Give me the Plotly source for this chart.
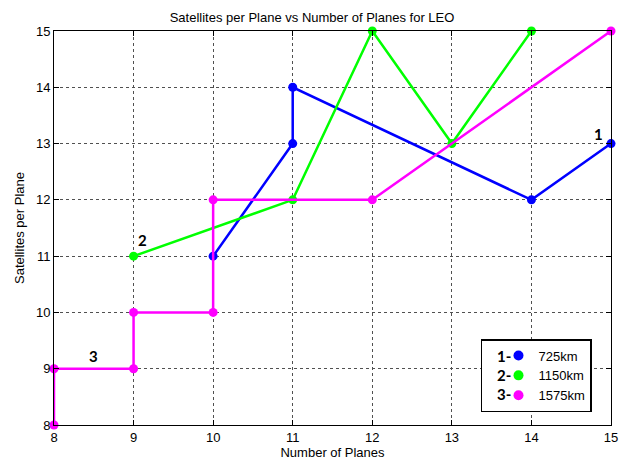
import plotly.graph_objects as go

# Number of planes (x) and satellites per plane (y) for each LEO altitude
planes_725 = [10, 11, 11, 14, 15]
sats_725 = [11, 13, 14, 12, 13]

planes_1150 = [9, 11, 12, 13, 14]
sats_1150 = [11, 12, 15, 13, 15]

planes_1575 = [8, 8, 9, 9, 10, 10, 12, 15]
sats_1575 = [8, 9, 9, 10, 10, 12, 12, 15]

series_names = ["725km", "1150km", "1575km"]
series_tags = ["1-", "2-", "3-"]
series_colors = ["#0000ff", "#00ff00", "#ff00ff"]

tick_vals = list(range(8, 16))

fig = go.Figure()

series = [
    (planes_725, sats_725),
    (planes_1150, sats_1150),
    (planes_1575, sats_1575),
]
for (xs, ys), name, color in zip(series, series_names, series_colors):
    fig.add_trace(go.Scatter(
        x=xs, y=ys, mode="lines+markers", name=name,
        line=dict(color=color, width=2.5),
        marker=dict(color=color, size=9),
        cliponaxis=False, showlegend=False,
    ))

# marker-only legend entries
for name, color in zip(series_names, series_colors):
    fig.add_trace(go.Scatter(
        x=[None], y=[None], mode="markers", name=name,
        marker=dict(color=color, size=10),
    ))

label_font = dict(family="Lato", size=15, color="black")
# series number labels next to the curves
fig.add_annotation(x=planes_725[-1], y=sats_725[-1], text="<b>1</b>",
                   showarrow=False, xshift=-13, yshift=10, font=label_font)
fig.add_annotation(x=planes_1150[0], y=sats_1150[0], text="<b>2</b>",
                   showarrow=False, xshift=9, yshift=16, font=label_font)
fig.add_annotation(x=(planes_1575[1] + planes_1575[2]) / 2, y=sats_1575[1],
                   text="<b>3</b>", showarrow=False, yshift=13, font=label_font)

# numbered prefixes inside the legend box
tag_y = [0.1751, 0.1269, 0.0787]
for tag, ty in zip(series_tags, tag_y):
    fig.add_annotation(xref="paper", yref="paper", x=0.8079, y=ty,
                       text="<b>" + tag + "</b>", showarrow=False,
                       xanchor="center", yanchor="middle", font=label_font)

axis_common = dict(
    range=[8, 15], tickvals=tick_vals, showgrid=True, automargin=False,
    gridcolor="rgb(80,80,80)", griddash="dot", gridwidth=1,
    showline=True, linecolor="black", linewidth=1, mirror="ticks",
    ticks="inside", ticklen=5, tickcolor="black", zeroline=False,
    tickfont=dict(family="Liberation Sans", size=13, color="black"),
)

title_font = dict(family="Liberation Sans", size=13, color="black")

fig.update_layout(
    width=624, height=463,
    margin=dict(l=54, r=13, t=31, b=38, autoexpand=False),
    paper_bgcolor="white", plot_bgcolor="white",
    font=dict(family="Liberation Sans", size=13, color="black"),
    title=dict(text="Satellites per Plane vs Number of Planes for LEO",
               x=0.5, xanchor="center", y=0.963, yanchor="middle",
               font=title_font),
    xaxis=dict(axis_common, title=dict(text="Number of Planes", standoff=4,
                                       font=title_font)),
    yaxis=dict(axis_common, title=dict(text="Satellites per Plane", standoff=8,
                                       font=title_font)),
    legend=dict(
        x=0.7666, y=0.1256, xanchor="left", yanchor="middle",
        bgcolor="white", bordercolor="black", borderwidth=1.5,
        indentation=16, tracegroupgap=0, itemwidth=30,
        font=dict(family="Liberation Sans", size=13),
    ),
)

fig.write_html("out.html")
